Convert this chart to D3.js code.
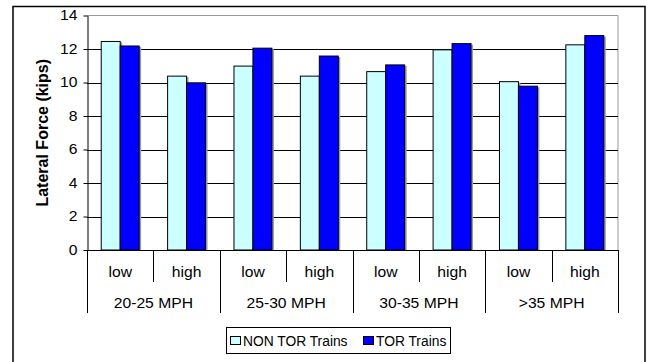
<!DOCTYPE html>
<html>
<head>
<meta charset="utf-8">
<script src="https://cdn.jsdelivr.net/npm/d3@7"></script>
<style>
  body { margin: 0; background: #fff; }
  svg { display: block; font-family: "Liberation Sans", Arial, sans-serif; }
</style>
</head>
<body>
<svg id="chart" width="647" height="362"></svg>
<script>
// data
let speeds = ["20-25 MPH", "25-30 MPH", "30-35 MPH", ">35 MPH"]
let levels = ["low", "high"]
let seriesNames = ["NON TOR Trains", "TOR Trains"]
let nonTor = [12.45, 10.38, 10.98, 10.38, 10.65, 11.95, 10.05, 12.25]
let tor = [12.18, 9.98, 12.05, 11.58, 11.05, 12.32, 9.78, 12.8]
let yTicks = [0, 2, 4, 6, 8, 10, 12, 14]

let colors = ['#CCFFFF', '#0000FF']

let svg = d3.select('#chart')
let plot = { left: 87, right: 618, top: 15.5, bottom: 250 }
let stretch = 1.12
let fs = 14

// 8 category slots: speed x level
let cats = []
speeds.forEach((s) => levels.forEach((l) => cats.push(s + '|' + l)))

let x = d3.scaleBand().domain(cats).range([plot.left, plot.right]).padding(0)
let xs = d3.scaleBand().domain(seriesNames).range([0, x.bandwidth()])
    .paddingInner(0).paddingOuter(0.75)
let y = d3.scaleLinear().domain([0, 14]).range([plot.bottom, plot.top])

// outer frame
svg.append('rect')
    .attr('x', 13).attr('y', 6.5)
    .attr('width', 632).attr('height', 370)
    .attr('fill', 'none').attr('stroke', '#000').attr('stroke-width', 1.5)

// plot area border (top / right in gray)
svg.append('path')
    .attr('d', `M${plot.left},${plot.top}H${plot.right}V${plot.bottom}`)
    .attr('fill', 'none').attr('stroke', '#999').attr('stroke-width', 1)

// gridlines
svg.append('g').selectAll('line')
    .data(yTicks.filter(d => d > 0 && d < 14))
    .join('line')
    .attr('x1', plot.left).attr('x2', plot.right)
    .attr('y1', d => Math.round(y(d)) + 0.5).attr('y2', d => Math.round(y(d)) + 0.5)
    .attr('stroke', '#000').attr('stroke-width', 1)

// y axis
let yAxis = svg.append('g')
    .attr('transform', `translate(${plot.left + 0.5},0)`)
    .call(d3.axisLeft(y).tickValues(yTicks).tickSize(4).tickPadding(6).tickSizeOuter(0))
yAxis.select('.domain').attr('stroke', '#000')
yAxis.selectAll('.tick line').attr('stroke', '#000')
yAxis.selectAll('text')
    .attr('font-size', fs)
    .attr('fill', '#000')
    .attr('font-family', '"Liberation Sans", Arial, sans-serif')
    .each(function() {
        let t = d3.select(this)
        let tx = +t.attr('x')
        t.attr('x', tx / stretch).attr('transform', `scale(${stretch},1)`)
    })

// y title
svg.append('text')
    .attr('transform', `translate(48,${(plot.top + plot.bottom) / 2}) rotate(-90)`)
    .attr('text-anchor', 'middle')
    .attr('font-size', 16)
    .attr('font-weight', 'bold')
    .text('Lateral Force (kips)')

// bars
let rows = cats.map((c, i) => ({ cat: c, values: [nonTor[i], tor[i]] }))
let groups = svg.append('g').selectAll('g')
    .data(rows)
    .join('g')
    .attr('transform', d => `translate(${x(d.cat)},0)`)

groups.selectAll('rect.shadow')
    .data(d => d.values.map((v, j) => ({ v, s: seriesNames[j] })))
    .join('rect')
    .attr('class', 'shadow')
    .attr('x', d => xs(d.s) + 2)
    .attr('y', d => y(d.v) + 1)
    .attr('width', xs.bandwidth())
    .attr('height', d => plot.bottom - y(d.v) - 1)
    .attr('fill', '#9a9a9a')

groups.selectAll('rect.bar')
    .data(d => d.values.map((v, j) => ({ v, s: seriesNames[j], j })))
    .join('rect')
    .attr('class', 'bar')
    .attr('x', d => xs(d.s))
    .attr('y', d => y(d.v))
    .attr('width', xs.bandwidth())
    .attr('height', d => plot.bottom - y(d.v))
    .attr('fill', d => colors[d.j])
    .attr('stroke', '#000')
    .attr('stroke-width', 1)

// category axis
let xa = svg.append('g')
xa.append('line')
    .attr('x1', plot.left).attr('x2', plot.right)
    .attr('y1', plot.bottom + 0.5).attr('y2', plot.bottom + 0.5)
    .attr('stroke', '#000')

let edges = d3.range(cats.length + 1).map(i => plot.left + i * x.step())
xa.selectAll('line.div')
    .data(edges)
    .join('line')
    .attr('class', 'div')
    .attr('x1', d => Math.round(d) + 0.5).attr('x2', d => Math.round(d) + 0.5)
    .attr('y1', plot.bottom)
    .attr('y2', (d, i) => i % 2 == 0 ? 313 : 282)
    .attr('stroke', '#000')

xa.selectAll('text.lvl')
    .data(cats)
    .join('text')
    .attr('class', 'lvl')
    .attr('transform', d => `translate(${x(d) + x.bandwidth() / 2},277) scale(${stretch},1)`)
    .attr('text-anchor', 'middle')
    .attr('font-size', fs)
    .text(d => d.split('|')[1])

xa.selectAll('text.spd')
    .data(speeds)
    .join('text')
    .attr('class', 'spd')
    .attr('transform', (d, i) => `translate(${x(d + '|low') + x.bandwidth()},308) scale(${stretch},1)`)
    .attr('text-anchor', 'middle')
    .attr('font-size', fs)
    .text(d => d)

// legend
let legend = svg.append('g')
legend.append('rect')
    .attr('x', 226.5).attr('y', 327.5)
    .attr('width', 224).attr('height', 26)
    .attr('fill', '#fff').attr('stroke', '#000')

let legX = [230, 363]
seriesNames.forEach((name, i) => {
    legend.append('rect')
        .attr('x', legX[i] + 0.5).attr('y', 336.5)
        .attr('width', 10).attr('height', 8)
        .attr('fill', colors[i]).attr('stroke', '#000')
    legend.append('text')
        .attr('x', legX[i] + 13).attr('y', 345.5)
        .attr('font-size', 13.8)
        .text(name)
})
</script>
</body>
</html>
